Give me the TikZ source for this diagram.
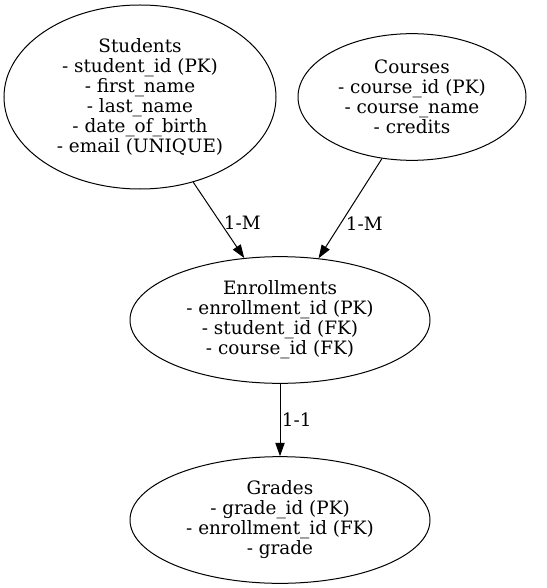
\documentclass[tikz,border=0pt]{standalone}
\usepackage{fontspec}
\setmainfont{DejaVu Serif}
\usetikzlibrary{shapes.geometric,arrows.meta}

\tikzset{
  entity/.style={draw,ellipse,inner sep=0pt,align=center,
    font=\fontsize{13.8}{15}\selectfont},
  rel/.style={-{Triangle[length=10pt,width=7pt]}},
  card/.style={right,inner sep=0pt,font=\fontsize{13.8}{15}\selectfont}
}

\begin{document}
\begin{tikzpicture}[x=0.75pt,y=-0.75pt,line width=0.75pt]
\useasboundingbox (0,0) rectangle (546,588);

\node[entity,minimum width=204pt,minimum height=138pt] (students) at (140,97)
  {Students\\- student\_id (PK)\\- first\_name\\- last\_name\\- date\_of\_birth\\- email (UNIQUE)};
\node[entity,minimum width=171pt,minimum height=95pt] (courses) at (412,97)
  {Courses\\- course\_id (PK)\\- course\_name\\- credits};
\node[entity,minimum width=225pt,minimum height=95pt] (enrollments) at (280,320)
  {Enrollments\\- enrollment\_id (PK)\\- student\_id (FK)\\- course\_id (FK)};
\node[entity,minimum width=225pt,minimum height=95pt] (grades) at (280,520)
  {Grades\\- grade\_id (PK)\\- enrollment\_id (FK)\\- grade};

% relationships
\draw[rel] (students.-58) -- node[card,pos=0.54,xshift=2pt] {1-M} (enrollments.120);
\draw[rel] (courses.-116) -- node[card,pos=0.65,xshift=3.5pt] {1-M} (enrollments.58);
\draw[rel] (enrollments) -- node[card,pos=0.5,xshift=1pt] {1-1} (grades);
\end{tikzpicture}
\end{document}
